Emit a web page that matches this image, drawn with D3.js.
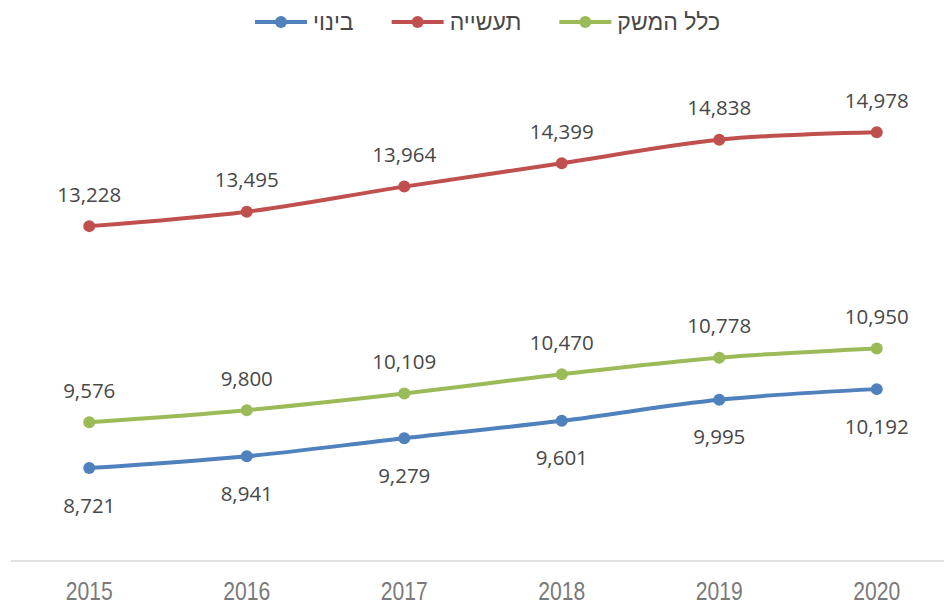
<!DOCTYPE html>
<html>
<head>
<meta charset="utf-8">
<script src="https://cdn.jsdelivr.net/npm/d3@7/dist/d3.min.js"></script>
<style>
  html, body { margin: 0; padding: 0; background: #ffffff; }
  svg { display: block; }
</style>
</head>
<body>
<svg id="chart" width="944" height="606"></svg>
<script>
// Years on the category axis
const years = ["2015", "2016", "2017", "2018", "2019", "2020"];

// Series values (one per year)
const construction = [8721, 8941, 9279, 9601, 9995, 10192];      // בינוי
const industry     = [13228, 13495, 13964, 14399, 14838, 14978]; // תעשייה
const economy      = [9576, 9800, 10109, 10470, 10778, 10950];   // כלל המשק

// Series names as shown in the legend
const seriesNames = ["בינוי", "תעשייה", "כלל המשק"];

const series = [
  { name: seriesNames[0], values: construction, color: "#4F81BD", labelPos: "below" },
  { name: seriesNames[1], values: industry,     color: "#C0504D", labelPos: "above" },
  { name: seriesNames[2], values: economy,      color: "#9BBB59", labelPos: "above" }
];

const svg = d3.select("#chart");

// Scales: value axis runs 7,000 to 16,000 (hidden), categories evenly spaced
const x = d3.scaleBand().domain(years).range([10.5, 955.5]);
const xc = d => x(d) + x.bandwidth() / 2;
const y = d3.scaleLinear().domain([7000, 16000]).range([560.5, 77.3]);

// Category axis
const xAxis = svg.append("g")
  .attr("transform", `translate(0,${y(7000)})`)
  .call(d3.axisBottom(x).tickSize(0).tickPadding(22));
xAxis.select(".domain").attr("stroke", "#D9D9D9").attr("stroke-width", 1.5);
xAxis.selectAll(".tick text")
  .attr("fill", "#7A7A7A")
  .style("font-family", "'Liberation Sans', Arial, sans-serif")
  .style("font-size", "25px")
  .style("font-weight", "normal")
  .attr("dy", "0.71em")
  .attr("textLength", 47)
  .attr("lengthAdjust", "spacingAndGlyphs");

const line = d3.line()
  .x((v, i) => xc(years[i]))
  .y(v => y(v))
  .curve(d3.curveCatmullRom.alpha(0.5));

const fmt = d3.format(",");

series.forEach(s => {
  const g = svg.append("g");
  g.append("path")
    .attr("d", line(s.values))
    .attr("fill", "none")
    .attr("stroke", s.color)
    .attr("stroke-width", 4)
    .attr("stroke-linecap", "round");
  g.selectAll("circle")
    .data(s.values)
    .join("circle")
    .attr("cx", (v, i) => xc(years[i]))
    .attr("cy", v => y(v))
    .attr("r", 6)
    .attr("fill", s.color);
  g.selectAll("text")
    .data(s.values)
    .join("text")
    .attr("x", (v, i) => xc(years[i]))
    .attr("y", v => s.labelPos === "above" ? y(v) - 32 + 7.5 : y(v) + 37 + 7.5)
    .attr("text-anchor", "middle")
    .attr("fill", "#484848")
    .style("font-family", "'Open Sans', 'Noto Sans', sans-serif")
    .style("font-size", "20.5px")
    .text(v => fmt(v));
});

// Legend: laid out right to left, line symbol to the left of each name
const legend = svg.append("g").attr("class", "legend");
let rightEdge = 720;
const legendY = 22;
[...series].reverse().forEach(s => {
  const t = legend.append("text")
    .attr("x", rightEdge)
    .attr("y", legendY + 8)
    .attr("text-anchor", "end")
    .attr("fill", "#484848")
    .style("font-family", "'Liberation Sans', 'DejaVu Sans', sans-serif")
    .style("font-size", "23px")
    .text(s.name);
  const w = t.node().getComputedTextLength();
  const x1 = rightEdge - w - 6;
  const x0 = x1 - 52;
  legend.append("line")
    .attr("x1", x0).attr("x2", x1)
    .attr("y1", legendY).attr("y2", legendY)
    .attr("stroke", s.color).attr("stroke-width", 4);
  legend.append("circle")
    .attr("cx", (x0 + x1) / 2).attr("cy", legendY).attr("r", 6)
    .attr("fill", s.color);
  rightEdge = x0 - 38;
});
</script>
</body>
</html>
